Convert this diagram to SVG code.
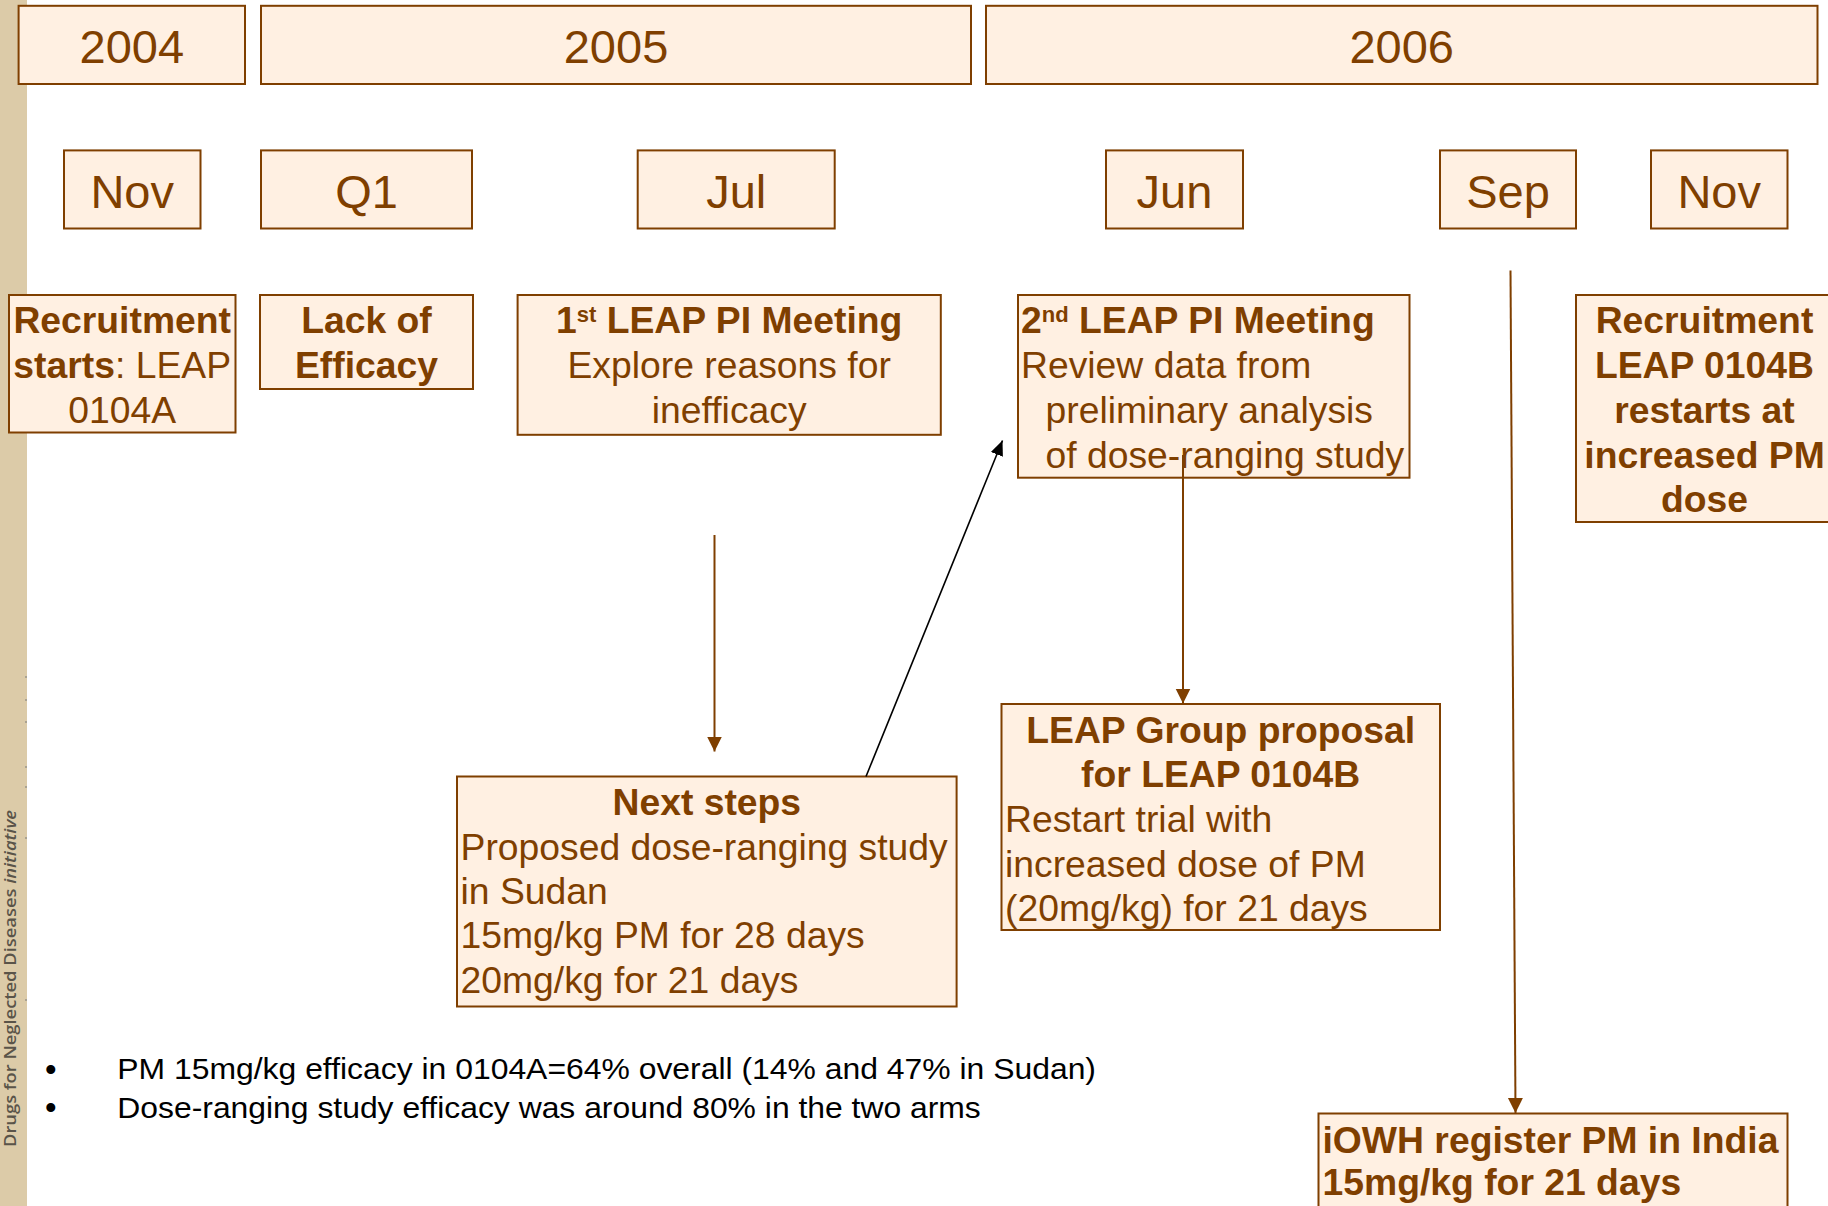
<svg xmlns="http://www.w3.org/2000/svg" width="1828" height="1206" viewBox="0 0 1828 1206">
<defs>
<style>
.box{fill:#FFF0E2;stroke:#7F3F00;stroke-width:2}
.t{font-family:"Liberation Sans",Arial,sans-serif;fill:#7F3F00}
.yr{font-size:47px;text-anchor:middle}
.ev{font-size:37.3px}
.b{font-weight:bold}
.c{text-anchor:middle}
.sup{font-size:22px}
.con{fill:none;stroke:#7F3F00;stroke-width:2}
.blk{fill:none;stroke:#000;stroke-width:1.6}
.bul{font-family:"Liberation Sans",Arial,sans-serif;font-size:29px;fill:#000}
.dot{font-family:"Liberation Sans",Arial,sans-serif;font-size:33px;fill:#000}
</style>
<marker id="ab" markerUnits="userSpaceOnUse" markerWidth="16" markerHeight="16" viewBox="0 0 16 16" refX="15" refY="8" orient="auto">
<path d="M0,0.5 L15,8 L0,15.5 z" fill="#7F3F00"/>
</marker>
<marker id="ak" markerUnits="userSpaceOnUse" markerWidth="16" markerHeight="16" viewBox="0 0 16 16" refX="15" refY="8" orient="auto">
<path d="M0,1.5 L15,8 L0,14.5 z" fill="#000"/>
</marker>
</defs>
<rect x="0" y="0" width="1828" height="1206" fill="#fff"/>
<g id="sidebar">
<rect x="0" y="0" width="27" height="1206" fill="#DCCBA8"/>
<text transform="translate(16,1147) rotate(-90)" font-family="'Open Sans','DejaVu Sans',sans-serif" font-size="16.5" font-weight="600" fill="#5A5449" textLength="337" lengthAdjust="spacingAndGlyphs">Drugs for Neglected Diseases <tspan font-style="italic">initiative</tspan></text>
<g fill="#9A9488">
<circle cx="26" cy="677" r="1"/><circle cx="26" cy="700" r="1"/><circle cx="26" cy="722" r="1"/><circle cx="26" cy="767" r="1"/><circle cx="26" cy="787" r="1"/><circle cx="26" cy="838" r="1"/><circle cx="26" cy="1000" r="1"/>
</g>
</g>
<g id="year-2004"><rect class="box" x="18.6" y="5.8" width="226.4" height="78.2"/><text class="t yr" x="131.8" y="62.7">2004</text></g>
<g id="year-2005"><rect class="box" x="261" y="5.8" width="710" height="78.2"/><text class="t yr" x="616" y="62.7">2005</text></g>
<g id="year-2006"><rect class="box" x="986" y="5.8" width="831.5" height="78.2"/><text class="t yr" x="1401.7" y="62.7">2006</text></g>
<g id="m-nov04"><rect class="box" x="64" y="150.4" width="136.5" height="78.1"/><text class="t yr" x="132.2" y="208">Nov</text></g>
<g id="m-q1"><rect class="box" x="261" y="150.4" width="211" height="78.1"/><text class="t yr" x="366.5" y="208">Q1</text></g>
<g id="m-jul"><rect class="box" x="637.7" y="150.4" width="197" height="78.1"/><text class="t yr" x="736.2" y="208">Jul</text></g>
<g id="m-jun"><rect class="box" x="1106" y="150.4" width="137" height="78.1"/><text class="t yr" x="1174.5" y="208">Jun</text></g>
<g id="m-sep"><rect class="box" x="1440" y="150.4" width="136" height="78.1"/><text class="t yr" x="1508" y="208">Sep</text></g>
<g id="m-nov06"><rect class="box" x="1651" y="150.4" width="136.5" height="78.1"/><text class="t yr" x="1719.2" y="208">Nov</text></g>
<g id="ev-recruit"><rect class="box" x="9" y="295" width="226.5" height="137.5"/>
<text class="t ev c" x="122.2" y="333"><tspan class="b">Recruitment</tspan></text>
<text class="t ev c" x="122.2" y="378"><tspan class="b">starts</tspan>: LEAP</text>
<text class="t ev c" x="122.2" y="423">0104A</text></g>
<g id="ev-lack"><rect class="box" x="260" y="295" width="213" height="94"/>
<text class="t ev c b" x="366.5" y="333">Lack of</text>
<text class="t ev c b" x="366.5" y="378">Efficacy</text></g>
<g id="ev-leap1"><rect class="box" x="517.6" y="295" width="423.2" height="139.8"/>
<text class="t ev c" x="729.2" y="333"><tspan class="b">1</tspan><tspan class="b sup" dy="-11">st</tspan><tspan class="b" dy="11"> LEAP PI Meeting</tspan></text>
<text class="t ev c" x="729.2" y="378">Explore reasons for</text>
<text class="t ev c" x="729.2" y="423">inefficacy</text></g>
<g id="ev-leap2"><rect class="box" x="1018" y="295" width="391.5" height="182.7"/>
<text class="t ev" x="1021" y="333"><tspan class="b">2</tspan><tspan class="b sup" dy="-11">nd</tspan><tspan class="b" dy="11"> LEAP PI Meeting</tspan></text>
<text class="t ev" x="1021" y="378">Review data from</text>
<text class="t ev" x="1045.5" y="423">preliminary analysis</text>
<text class="t ev" x="1045.5" y="468">of dose-ranging study</text></g>
<g id="ev-recruit-b"><rect class="box" x="1576" y="295" width="260" height="227"/>
<text class="t ev c b" x="1704.5" y="333">Recruitment</text>
<text class="t ev c b" x="1704.5" y="378">LEAP 0104B</text>
<text class="t ev c b" x="1704.5" y="423">restarts at</text>
<text class="t ev c b" x="1704.5" y="467.5">increased PM</text>
<text class="t ev c b" x="1704.5" y="512">dose</text></g>
<g id="ev-proposal"><rect class="box" x="1001.5" y="704" width="438.5" height="226"/>
<text class="t ev c b" x="1220.7" y="743">LEAP Group proposal</text>
<text class="t ev c b" x="1220.7" y="787">for LEAP 0104B</text>
<text class="t ev" x="1005" y="832">Restart trial with</text>
<text class="t ev" x="1005" y="877">increased dose of PM</text>
<text class="t ev" x="1005" y="921">(20mg/kg) for 21 days</text></g>
<g id="ev-next"><rect class="box" x="457" y="776.5" width="499.6" height="230"/>
<text class="t ev c b" x="706.8" y="815">Next steps</text>
<text class="t ev" x="460.5" y="860">Proposed dose-ranging study</text>
<text class="t ev" x="460.5" y="904">in Sudan</text>
<text class="t ev" x="460.5" y="948">15mg/kg PM for 28 days</text>
<text class="t ev" x="460.5" y="993">20mg/kg for 21 days</text></g>
<g id="ev-iowh"><rect class="box" x="1318.5" y="1113.5" width="469" height="110"/>
<text class="t ev b" x="1322.5" y="1153">iOWH register PM in India</text>
<text class="t ev b" x="1322.5" y="1195">15mg/kg for 21 days</text></g>
<g id="connectors">
<line class="con" x1="714.5" y1="535" x2="714.5" y2="751.5" marker-end="url(#ab)"/>
<line class="blk" x1="866" y1="776.5" x2="1002.5" y2="440.5" marker-end="url(#ak)"/>
<line class="con" x1="1183" y1="455" x2="1183" y2="703.5" marker-end="url(#ab)"/>
<line class="con" x1="1510.5" y1="270.5" x2="1515.5" y2="1113" marker-end="url(#ab)"/>
</g>
<g id="notes">
<text class="dot" x="45" y="1080.5">•</text>
<text class="bul" x="117.3" y="1079.3" textLength="978.7" lengthAdjust="spacingAndGlyphs">PM 15mg/kg efficacy in 0104A=64% overall (14% and 47% in Sudan)</text>
<text class="dot" x="45" y="1119">•</text>
<text class="bul" x="117.3" y="1117.7" textLength="863.5" lengthAdjust="spacingAndGlyphs">Dose-ranging study efficacy was around 80% in the two arms</text>
</g>
</svg>
